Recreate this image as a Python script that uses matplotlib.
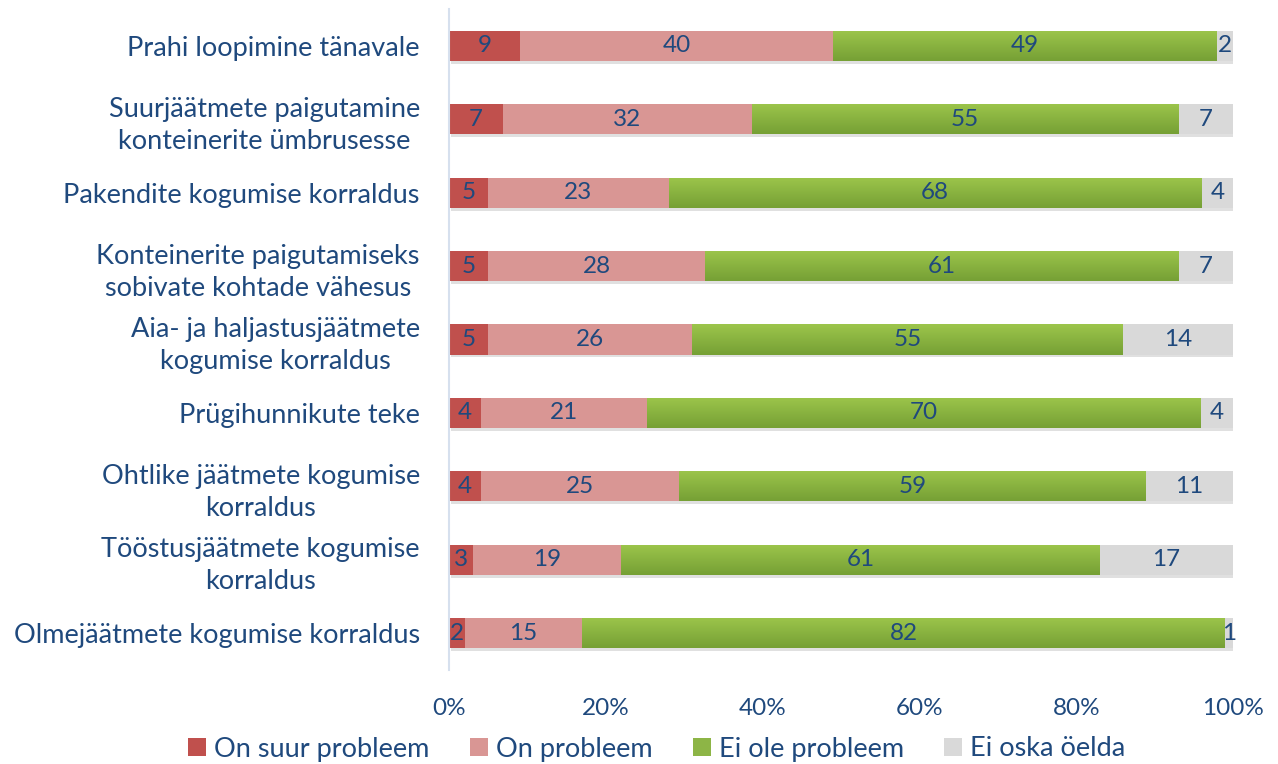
import numpy as np
import matplotlib.pyplot as plt
from matplotlib.colors import LinearSegmentedColormap

# data, top row first
categories = [
    "Prahi loopimine tänavale",
    "Suurjäätmete paigutamine\nkonteinerite ümbrusesse",
    "Pakendite kogumise korraldus",
    "Konteinerite paigutamiseks\nsobivate kohtade vähesus",
    "Aia- ja haljastusjäätmete\nkogumise korraldus",
    "Prügihunnikute teke",
    "Ohtlike jäätmete kogumise\nkorraldus",
    "Tööstusjäätmete kogumise\nkorraldus",
    "Olmejäätmete kogumise korraldus",
]
suur_probleem = [9, 7, 5, 5, 5, 4, 4, 3, 2]
on_probleem = [40, 32, 23, 28, 26, 21, 25, 19, 15]
ei_ole = [49, 55, 68, 61, 55, 70, 59, 61, 82]
ei_oska = [2, 7, 4, 7, 14, 4, 11, 17, 1]
series_names = ["On suur probleem", "On probleem", "Ei ole probleem", "Ei oska öelda"]

text_col = "#1F497D"
colors = ["#C0504D", "#D99694", "#8DB546", "#D9D9D9"]
plt.rcParams['font.family'] = ['Lato', 'DejaVu Sans']

fig = plt.figure(figsize=(12.78, 7.64), dpi=100)
ax = fig.add_axes([449 / 1278, 1 - 670 / 764, 784 / 1278, 661 / 764])

data = np.array([suur_probleem, on_probleem, ei_ole, ei_oska], dtype=float)
totals = data.sum(axis=0)
shares = data / totals * 100
y = np.arange(len(categories))
h = 0.41

green_cmap = LinearSegmentedColormap.from_list("g", ["#9CC54B", "#76A035"])
left = np.zeros(len(categories))
for i, name in enumerate(series_names):
    # soft shadow
    ax.barh(y + 0.04, shares[i], height=h, left=left + 0.25, color="#000000",
            alpha=0.12, zorder=1, linewidth=0)
    bars = ax.barh(y, shares[i], height=h, left=left, color=colors[i],
                   label=name, zorder=2, linewidth=0)
    if i == 2:
        for b in bars:
            b.set_facecolor("none")
            x0, y0 = b.get_x(), b.get_y()
            im = ax.imshow(np.linspace(0, 1, 50).reshape(-1, 1), cmap=green_cmap,
                           aspect="auto", extent=(x0, x0 + b.get_width(), y0 + h, y0),
                           zorder=2, interpolation="bilinear")
            im.set_clip_path(b)
    for j, b in enumerate(bars):
        ax.text(left[j] + shares[i][j] / 2, y[j], f"{int(data[i][j])}",
                ha="center", va="center", color=text_col, fontsize=17.5, zorder=3)
    left += shares[i]

ax.set_xlim(0, 100)
ax.set_ylim(len(categories) - 0.5, -0.5)
ax.set_yticks(y)
ax.set_yticklabels(categories, fontsize=19.5, color=text_col, multialignment="center",
                   linespacing=1.35)
ax.set_xticks([0, 20, 40, 60, 80, 100])
ax.set_xticklabels([f"{v}%" for v in [0, 20, 40, 60, 80, 100]], fontsize=17.5, color=text_col)
ax.tick_params(axis="y", length=0, pad=21)
ax.tick_params(axis="x", length=0, pad=20)
for s in ["top", "right", "bottom"]:
    ax.spines[s].set_visible(False)
ax.spines["left"].set_color("#D6E0EE")
ax.spines["left"].set_linewidth(1.5)

handles, labels = ax.get_legend_handles_labels()
leg = fig.legend(handles, labels, loc="center", bbox_to_anchor=(0.514, 1 - 749 / 764), ncol=4,
                 frameon=False, fontsize=19.5, handlelength=0.65, handleheight=0.65,
                 handletextpad=0.3, columnspacing=1.5)
for t in leg.get_texts():
    t.set_color(text_col)
leg.legend_handles[2].set_facecolor("#8DB546")

fig.savefig("out.png", dpi=100)
